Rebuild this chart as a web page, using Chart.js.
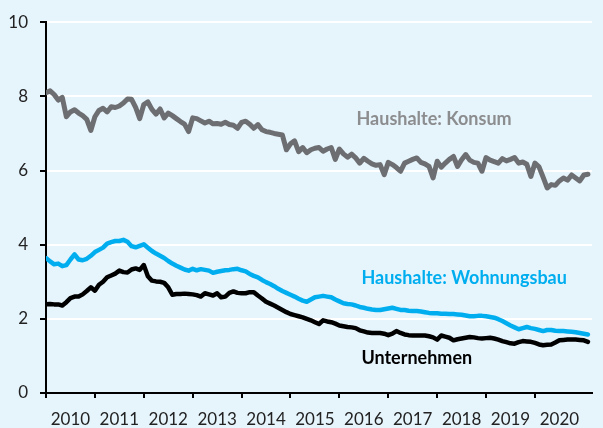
<!DOCTYPE html>
<html>
<head>
<meta charset="utf-8">
<script src="https://cdn.jsdelivr.net/npm/chart.js@4.4.0/dist/chart.umd.min.js"></script>
<style>
  html, body { margin: 0; padding: 0; background: #e6f4fc; }
  #wrap { width: 603px; height: 428px; }
</style>
</head>
<body>
<div id="wrap"><canvas id="chart" width="603" height="428"></canvas></div>
<script>
// monthly values, Jan 2010 .. Feb 2021
const konsum = [
  8.10, 8.15, 8.05, 7.90, 7.97, 7.45, 7.58, 7.64, 7.55, 7.48, 7.38, 7.08,
  7.45, 7.62, 7.68, 7.58, 7.72, 7.70, 7.74, 7.82, 7.93, 7.92, 7.70, 7.40,
  7.78, 7.85, 7.65, 7.52, 7.66, 7.42, 7.55, 7.48, 7.40, 7.32, 7.25, 7.05,
  7.42, 7.40, 7.34, 7.28, 7.33, 7.26, 7.27, 7.25, 7.30, 7.24, 7.22, 7.14,
  7.30, 7.33, 7.25, 7.14, 7.24, 7.10, 7.05, 7.03, 7.00, 6.98, 6.96, 6.56,
  6.72, 6.80, 6.51, 6.62, 6.48, 6.56, 6.60, 6.62, 6.52, 6.58, 6.62, 6.30,
  6.58, 6.45, 6.36, 6.44, 6.34, 6.20, 6.33, 6.25, 6.18, 6.14, 6.16, 5.89,
  6.22, 6.16, 6.08, 5.98, 6.20, 6.25, 6.30, 6.34, 6.22, 6.18, 6.11, 5.80,
  6.25, 6.09, 6.20, 6.30, 6.38, 6.11, 6.29, 6.43, 6.28, 6.22, 6.20, 5.98,
  6.35, 6.28, 6.24, 6.20, 6.32, 6.26, 6.30, 6.35, 6.20, 6.23, 6.17, 5.84,
  6.20, 6.10, 5.82, 5.53, 5.62, 5.60, 5.72, 5.80, 5.74, 5.88, 5.80, 5.72,
  5.88, 5.90
];
const wohnungsbau = [
  3.64, 3.55, 3.47, 3.49, 3.42, 3.45, 3.60, 3.74, 3.60, 3.58, 3.62, 3.70,
  3.80, 3.86, 3.92, 4.03, 4.07, 4.10, 4.10, 4.13, 4.08, 3.96, 3.93, 3.97,
  4.01, 3.92, 3.83, 3.76, 3.70, 3.64, 3.56, 3.49, 3.43, 3.38, 3.33, 3.30,
  3.35, 3.31, 3.34, 3.32, 3.30, 3.24, 3.27, 3.29, 3.31, 3.32, 3.34, 3.35,
  3.31, 3.28, 3.21, 3.16, 3.12, 3.05, 2.99, 2.94, 2.88, 2.81, 2.75, 2.70,
  2.65, 2.60, 2.54, 2.49, 2.46, 2.52, 2.58, 2.60, 2.62, 2.60, 2.58, 2.52,
  2.47, 2.42, 2.40, 2.39, 2.36, 2.32, 2.30, 2.27, 2.25, 2.24, 2.24, 2.26,
  2.28, 2.30, 2.27, 2.24, 2.24, 2.22, 2.21, 2.21, 2.20, 2.18, 2.16, 2.15,
  2.15, 2.14, 2.14, 2.13, 2.13, 2.12, 2.11, 2.09, 2.07, 2.07, 2.08, 2.08,
  2.07, 2.05, 2.03, 1.99, 1.94, 1.88, 1.82, 1.77, 1.72, 1.75, 1.78, 1.75,
  1.73, 1.70, 1.67, 1.70, 1.70, 1.68, 1.67, 1.67, 1.66, 1.65, 1.64, 1.62,
  1.60, 1.58
];
const unternehmen = [
  2.39, 2.40, 2.39, 2.39, 2.36, 2.45, 2.56, 2.60, 2.60, 2.66, 2.75, 2.85,
  2.76, 2.92, 3.00, 3.12, 3.17, 3.22, 3.30, 3.26, 3.25, 3.33, 3.36, 3.32,
  3.45, 3.15, 3.03, 3.01, 3.00, 2.97, 2.85, 2.65, 2.67, 2.67, 2.68, 2.67,
  2.66, 2.64, 2.60, 2.69, 2.66, 2.63, 2.69, 2.58, 2.60, 2.70, 2.74, 2.70,
  2.69, 2.69, 2.72, 2.72, 2.63, 2.55, 2.46, 2.41, 2.36, 2.30, 2.24, 2.18,
  2.13, 2.10, 2.07, 2.04, 2.00, 1.96, 1.91, 1.86, 1.96, 1.93, 1.91, 1.87,
  1.82, 1.80, 1.78, 1.77, 1.75, 1.69, 1.66, 1.63, 1.62, 1.62, 1.62, 1.60,
  1.56, 1.60, 1.67, 1.62, 1.58, 1.56, 1.55, 1.55, 1.55, 1.55, 1.53, 1.50,
  1.44, 1.55, 1.52, 1.49, 1.42, 1.45, 1.47, 1.49, 1.51, 1.50, 1.48, 1.47,
  1.48, 1.49, 1.47, 1.44, 1.40, 1.37, 1.34, 1.33, 1.37, 1.40, 1.39, 1.38,
  1.35, 1.31, 1.29, 1.30, 1.31, 1.36, 1.42, 1.43, 1.44, 1.44, 1.44, 1.43,
  1.42, 1.38
];
const years = ['2010','2011','2012','2013','2014','2015','2016','2017','2018','2019','2020'];
const yTicks = [0, 2, 4, 6, 8, 10];

const toPoints = arr => arr.map((v, i) => ({ x: i, y: v }));

// text labels next to the lines
const seriesLabels = {
  id: 'seriesLabels',
  afterDatasetsDraw(chart) {
    const { ctx, scales } = chart;
    const items = [
      { text: 'Haushalte: Konsum', m: 76.2, v: 7.24, color: '#8c8d8f' },
      { text: 'Haushalte: Wohnungsbau', m: 77.4, v: 2.95, color: '#00aeef' },
      { text: 'Unternehmen', m: 77.4, v: 0.79, color: '#000000' }
    ];
    ctx.save();
    ctx.font = 'bold 18px Lato';
    ctx.textAlign = 'left';
    ctx.textBaseline = 'alphabetic';
    items.forEach(it => {
      ctx.fillStyle = it.color;
      ctx.fillText(it.text, scales.x.getPixelForValue(it.m), scales.y.getPixelForValue(it.v));
    });
    ctx.restore();
  }
};

const ctx = document.getElementById('chart').getContext('2d');
new Chart(ctx, {
  type: 'line',
  data: {
    datasets: [
      { label: 'Haushalte: Konsum', data: toPoints(konsum), borderColor: '#6d6e71', borderWidth: 5 },
      { label: 'Haushalte: Wohnungsbau', data: toPoints(wohnungsbau), borderColor: '#00aeef', borderWidth: 4.5 },
      { label: 'Unternehmen', data: toPoints(unternehmen), borderColor: '#000000', borderWidth: 4.5 }
    ]
  },
  options: {
    responsive: false,
    animation: false,
    layout: { padding: { top: 20, right: 0, left: 0, bottom: 0 } },
    elements: {
      point: { radius: 0 },
      line: { tension: 0, borderJoinStyle: 'round', borderCapStyle: 'round' }
    },
    plugins: {
      legend: { display: false },
      tooltip: { enabled: false }
    },
    scales: {
      x: {
        type: 'linear',
        min: 0,
        max: 134,
        afterFit: s => { s.height = 35; },
        border: { color: '#000', width: 2 },
        grid: {
          drawOnChartArea: false,
          tickLength: 5,
          lineWidth: 2,
          tickColor: c => (c.tick && c.tick.value % 12 === 0 && c.tick.value <= 132) ? '#000' : 'rgba(0,0,0,0)'
        },
        ticks: {
          stepSize: 6,
          autoSkip: false,
          maxRotation: 0,
          padding: 11,
          color: '#222',
          font: { family: 'Lato', size: 17 },
          callback: v => (v % 12 === 6) ? years[(v - 6) / 12] : ''
        }
      },
      y: {
        min: 0,
        max: 10,
        afterFit: s => { s.width = 46; },
        afterBuildTicks: s => { s.ticks = yTicks.map(v => ({ value: v })); },
        border: { color: '#000', width: 2 },
        grid: {
          color: '#ffffff',
          lineWidth: 2,
          tickLength: 6,
          tickColor: '#000'
        },
        ticks: {
          padding: 12,
          color: '#222',
          font: { family: 'Lato', size: 17 }
        }
      }
    }
  },
  plugins: [seriesLabels]
});
</script>
</body>
</html>
